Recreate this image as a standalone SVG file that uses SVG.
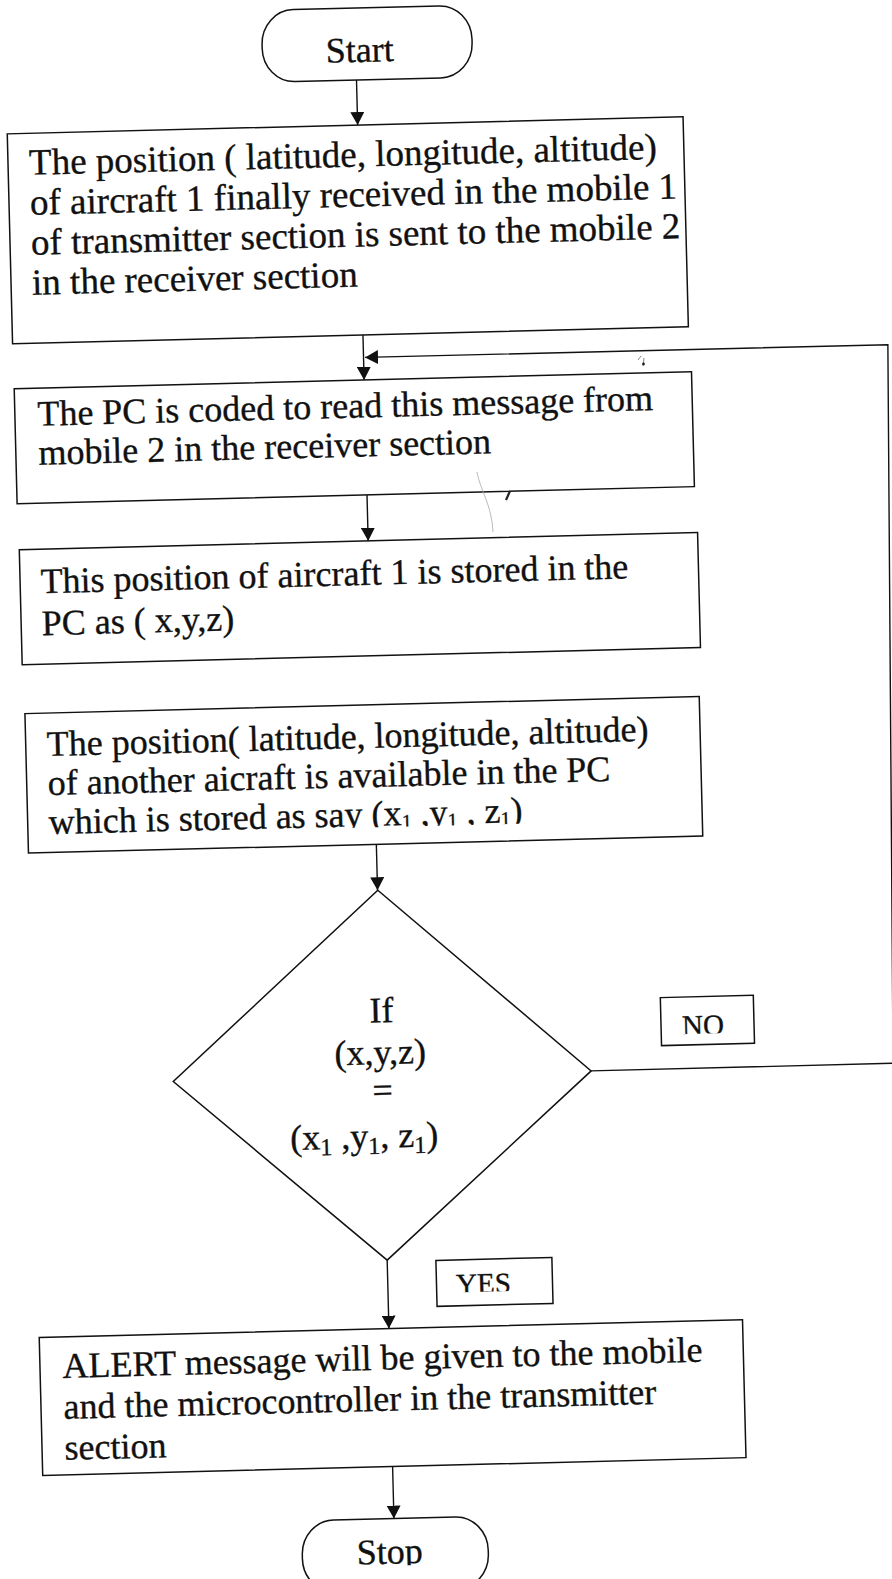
<svg xmlns="http://www.w3.org/2000/svg" width="892" height="1579" viewBox="0 0 892 1579">
  <style>
    .shape { fill: #fff; stroke: #111; stroke-width: 1.5; }
    .line { fill: none; stroke: #111; stroke-width: 1.4; }
    text { font-family: "Liberation Serif", "Times New Roman", serif; fill: #111; stroke: #111; stroke-width: 0.35; }
    .body { font-size: 36px; }
    .big { font-size: 37px; }
    .lbl { font-size: 29px; }
    .c { text-anchor: middle; }
  </style>
  <defs>
    <marker id="arrow" viewBox="0 0 13 14" refX="13" refY="7" markerWidth="13" markerHeight="14" markerUnits="userSpaceOnUse" orient="auto">
      <path d="M0,0 L13,7 L0,14 Z" fill="#111"/>
    </marker>
    <!-- text boxes that cut off the bottom of their last line -->
    <clipPath id="clipB4" clipPathUnits="userSpaceOnUse"><rect x="0" y="795" width="720" height="30.5"/></clipPath>
    <clipPath id="clipNo" clipPathUnits="userSpaceOnUse"><rect x="655" y="1003" width="93" height="37"/></clipPath>
    <clipPath id="clipYes" clipPathUnits="userSpaceOnUse"><rect x="424" y="1260" width="116" height="32.5"/></clipPath>
    <clipPath id="clipStop" clipPathUnits="userSpaceOnUse"><rect x="283" y="1512" width="186" height="52"/></clipPath>
  </defs>

  <rect width="892" height="1579" fill="#fff"/>

  <!-- whole chart sits slightly tilted on the page -->
  <g transform="rotate(-1.45 446 790)">

    <g id="start">
      <rect class="shape" x="281" y="6" width="210" height="72" rx="32" ry="34"/>
      <text class="body c" x="378.5" y="60">Start</text>
    </g>

    <g id="send-position">
      <rect class="shape" x="24" y="123" width="676" height="210"/>
      <text class="big" x="45" y="164.5">The position ( latitude, longitude, altitude)</text>
      <text class="big" x="45" y="204.5">of aircraft 1 finally received in the mobile 1</text>
      <text class="big" x="45" y="244.5">of transmitter section is sent to the mobile 2</text>
      <text class="big" x="45" y="284.5">in the receiver section</text>
    </g>

    <g id="pc-read">
      <rect class="shape" x="24.5" y="378" width="677.5" height="115"/>
      <text class="body" x="47" y="415.5">The PC is coded to read this message from</text>
      <text class="body" x="47" y="454.5">mobile 2 in the receiver section</text>
    </g>

    <g id="store-xyz">
      <rect class="shape" x="25.5" y="539" width="678.5" height="115"/>
      <text class="body" x="46" y="583">This position of aircraft 1 is stored in the</text>
      <text class="body" x="46" y="625">PC as ( x,y,z)</text>
    </g>

    <g id="other-aircraft">
      <rect class="shape" x="27" y="703" width="674.5" height="139.5"/>
      <text class="body" x="48" y="746">The position( latitude, longitude, altitude)</text>
      <text class="body" x="48" y="785">of another aicraft is available in the PC</text>
      <text class="body" x="48" y="824" clip-path="url(#clipB4)">which is stored as say (x<tspan dy="3" font-size="20">1</tspan><tspan dy="-3"> ,y</tspan><tspan dy="3" font-size="20">1</tspan><tspan dy="-3"> , z</tspan><tspan dy="3" font-size="20">1</tspan><tspan dy="-3">)</tspan></text>
    </g>

    <g id="compare">
      <path class="shape" d="M375.3,888.5 L584,1074.5 L375.3,1258.5 L166,1074.5 Z"/>
      <text class="body c" x="376" y="1020.5">If</text>
      <text class="body c" x="373.6" y="1062.5">(x,y,z)</text>
      <text class="body c" x="375" y="1100.5">=</text>
      <text class="body c" x="355.4" y="1146">(x<tspan dy="6" font-size="24">1</tspan><tspan dy="-6"> ,y</tspan><tspan dy="6" font-size="24">1</tspan><tspan dy="-6">, z</tspan><tspan dy="6" font-size="24">1</tspan><tspan dy="-6">)</tspan></text>
    </g>

    <g id="label-no">
      <rect class="shape" x="655" y="1003" width="93" height="48"/>
      <text class="lbl c" x="697" y="1041.5" clip-path="url(#clipNo)">NO</text>
    </g>

    <g id="label-yes">
      <rect class="shape" x="424" y="1260" width="116" height="46"/>
      <text class="lbl c" x="471" y="1294" clip-path="url(#clipYes)">YES</text>
    </g>

    <g id="alert">
      <rect class="shape" x="25.5" y="1327" width="703.5" height="138"/>
      <text class="body" x="48" y="1368">ALERT message will be given to the mobile</text>
      <text class="body" x="48" y="1409">and the microcontroller in the transmitter</text>
      <text class="body" x="48" y="1450">section</text>
    </g>

    <g id="stop">
      <rect class="shape" x="283" y="1517" width="186" height="72" rx="32" ry="34"/>
      <text class="body c" x="370.5" y="1562" clip-path="url(#clipStop)">Stop</text>
    </g>

    <g id="connectors">
      <path class="line" d="M374.5,78 V123" marker-end="url(#arrow)"/>
      <path class="line" d="M374.5,333 V378" marker-end="url(#arrow)"/>
      <path class="line" d="M374.5,493 V539" marker-end="url(#arrow)"/>
      <path class="line" d="M375,842.5 V888.5" marker-end="url(#arrow)"/>
      <path class="line" d="M375.3,1258.5 V1327" marker-end="url(#arrow)"/>
      <path class="line" d="M375.5,1465 V1517" marker-end="url(#arrow)"/>
      <!-- NO branch loops back up the right margin -->
      <path class="line" d="M584,1074.5 L886,1074.5 L899,356 L376,355.5" marker-end="url(#arrow)"/>
    </g>
  </g>

  <!-- stray pen marks on the sheet -->
  <g id="marks">
    <path d="M477,472 C480,490 492,505 493,532" fill="none" stroke="#aaa" stroke-width="0.8"/>
    <path d="M510,491 L506,500" fill="none" stroke="#222" stroke-width="2.2"/>
    <path d="M638,360 L641,356 M644,358 L643,366" fill="none" stroke="#888" stroke-width="1"/>
    <circle cx="643.5" cy="364" r="1.4" fill="#222"/>
  </g>
</svg>
